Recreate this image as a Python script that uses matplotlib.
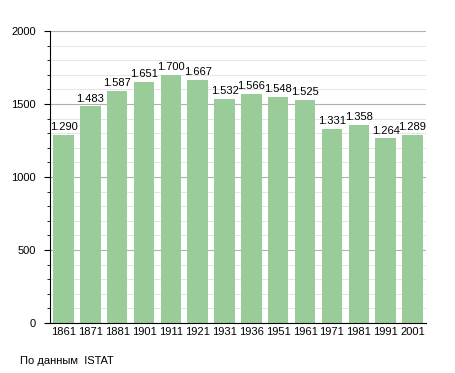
import matplotlib.pyplot as plt
from matplotlib.ticker import MultipleLocator

plt.rcParams["font.family"] = ["Liberation Sans", "DejaVu Sans"]

years = ["1861", "1871", "1881", "1901", "1911", "1921", "1931",
         "1936", "1951", "1961", "1971", "1981", "1991", "2001"]
population = [1290, 1483, 1587, 1651, 1700, 1667, 1532,
              1566, 1548, 1525, 1331, 1358, 1264, 1289]
labels = ["1.290", "1.483", "1.587", "1.651", "1.700", "1.667", "1.532",
          "1.566", "1.548", "1.525", "1.331", "1.358", "1.264", "1.289"]

fig = plt.figure(figsize=(4.55, 3.73), dpi=100)
ax = fig.add_axes([0.110, 0.134, 0.826, 0.783])

x = range(len(years))
ax.bar(x, population, width=0.76, color="#99cc99", zorder=2)
for i, (v, lab) in enumerate(zip(population, labels)):
    ax.text(i, v + 20, lab, ha="center", va="bottom", fontsize=8, color="black")

ax.set_xlim(-0.5, len(years) - 0.5)
ax.set_ylim(0, 2000)
ax.set_xticks(list(x))
ax.set_xticklabels(years, fontsize=8)
ax.yaxis.set_major_locator(MultipleLocator(500))
ax.yaxis.set_minor_locator(MultipleLocator(100))
ax.tick_params(axis="y", labelsize=8, length=4, width=0.8, pad=6)
ax.tick_params(axis="y", which="minor", length=2.5, width=0.6)
ax.tick_params(axis="x", length=0, pad=3)
ax.grid(axis="y", which="major", color="#b0b0b0", linewidth=0.8, zorder=0)
ax.grid(axis="y", which="minor", color="#e0e0e0", linewidth=0.6, zorder=0)

for side in ["top", "right"]:
    ax.spines[side].set_visible(False)
ax.spines["left"].set_color("black")
ax.spines["bottom"].set_color("black")

fig.text(0.044, 0.018, "По данным  ISTAT", fontsize=8, ha="left", va="bottom")

fig.savefig("out.png", dpi=100)
